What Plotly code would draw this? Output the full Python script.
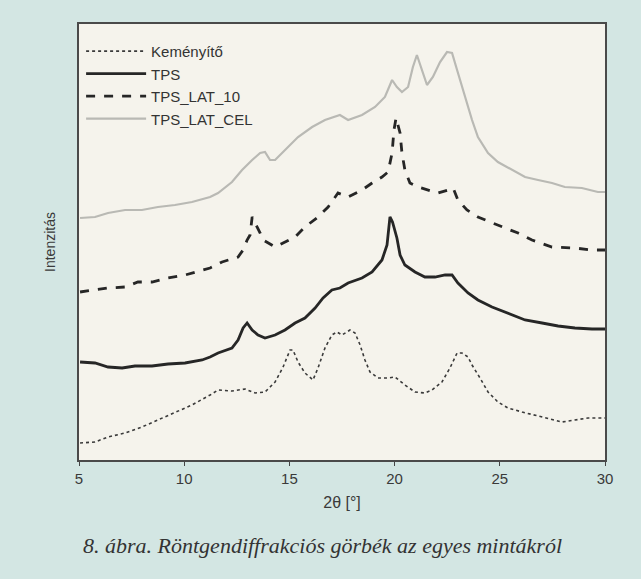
import plotly.graph_objects as go

# 2θ [°] positions and intensities (arbitrary units)
kem_x = [5.05, 5.76, 6.38, 7.19, 7.99, 8.75, 9.56, 10.37, 11.23, 11.61, 12.27, 12.89, 13.37, 13.84,
         14.32, 14.70, 15.03, 15.17, 15.41, 15.74, 16.12, 16.36, 16.69, 17.02, 17.26, 17.50, 17.88,
         18.12, 18.36, 18.59, 18.83, 19.21, 19.69, 20.02, 20.49, 20.97, 21.44, 21.78, 22.25, 22.63,
         22.97, 23.20, 23.49, 23.68, 24.06, 24.44, 24.91, 25.39, 26.06, 26.67, 27.29, 27.96, 28.57,
         29.19, 29.76, 30.0]
kem_y = [17, 18, 23, 27, 33, 40, 47, 55, 65, 70, 69, 71, 67, 68,
         78, 93, 110, 110, 98, 87, 80, 92, 112, 125, 128, 125, 130,
         127, 115, 100, 88, 82, 82, 83, 75, 68, 67, 70, 78, 92,
         107, 107, 103, 95, 82, 68, 58, 52, 48, 45, 42, 38, 40,
         42, 42, 42]

tps_x = [5.05, 5.76, 6.38, 7.05, 7.66, 8.47, 9.23, 10.04, 10.85, 11.23, 11.61, 12.27, 12.56, 12.80,
         12.99, 13.23, 13.51, 13.84, 14.32, 14.79, 15.27, 15.74, 16.22, 16.60, 17.02, 17.40, 17.79,
         18.45, 18.93, 19.40, 19.64, 19.78, 19.90, 20.11, 20.26, 20.49, 20.97, 21.44, 21.92, 22.40,
         22.73, 23.01, 23.49, 23.96, 24.63, 25.39, 26.20, 27.01, 27.77, 28.57, 29.38, 30.0]
tps_y = [98, 97, 93, 92, 94, 94, 96, 97, 100, 103, 107, 112, 120, 132,
         137, 130, 125, 122, 125, 130, 137, 142, 152, 162, 170, 172, 177,
         182, 188, 200, 215, 243, 238, 222, 205, 195, 188, 183, 183, 185,
         185, 177, 167, 160, 153, 147, 140, 137, 134, 132, 131, 131]

lat10_x = [5.05, 5.76, 6.38, 7.19, 7.80, 8.47, 9.23, 10.04, 10.85, 11.23, 11.80, 12.56, 12.80, 12.99,
           13.13, 13.23, 13.61, 13.75, 14.32, 14.79, 15.27, 15.74, 16.36, 16.84, 17.31, 17.79, 18.45,
           18.93, 19.40, 19.69, 19.88, 19.97, 20.07, 20.26, 20.35, 20.49, 20.73, 21.11, 21.59, 22.06,
           22.54, 22.78, 23.01, 23.44, 23.96, 24.63, 25.25, 25.87, 26.53, 27.48, 28.57, 29.38, 30.0]
lat10_y = [168, 170, 172, 173, 178, 178, 182, 185, 190, 192, 198, 203, 210, 220,
           225, 243, 227, 220, 213, 218, 223, 233, 243, 253, 267, 263, 270,
           277, 283, 288, 307, 330, 342, 327, 307, 290, 277, 273, 270, 267,
           270, 272, 260, 250, 243, 237, 232, 227, 220, 213, 212, 210, 210]

cel_x = [5.05, 5.76, 6.38, 7.19, 7.99, 8.75, 9.56, 10.37, 11.23, 11.61, 12.27, 12.75, 13.23, 13.61,
         13.84, 14.08, 14.32, 14.79, 15.41, 16.08, 16.69, 17.40, 17.79, 18.45, 19.07, 19.54, 19.88,
         20.11, 20.35, 20.64, 20.87, 21.06, 21.30, 21.54, 21.82, 22.16, 22.49, 22.73, 22.97, 23.20,
         23.44, 23.68, 23.96, 24.44, 24.91, 25.58, 26.20, 26.82, 27.48, 28.09, 28.90, 29.66, 30.0]
cel_y = [242, 243, 247, 250, 250, 253, 255, 258, 263, 267, 278, 290, 300, 307,
         308, 300, 300, 310, 323, 333, 340, 345, 340, 345, 353, 363, 380,
         373, 368, 373, 393, 405, 390, 375, 383, 398, 408, 407, 390, 373,
         357, 340, 323, 307, 298, 290, 283, 280, 277, 273, 272, 268, 268]

names = ["Keményítő", "TPS", "TPS_LAT_10", "TPS_LAT_CEL"]
x_ticks = [5, 10, 15, 20, 25, 30]
caption = "8. ábra. Röntgendiffrakciós görbék az egyes mintákról"

fig = go.Figure()
fig.add_trace(go.Scatter(x=kem_x, y=kem_y, name=names[0], mode="lines",
                         line=dict(color="#3a3a3a", width=1.6, dash="dot")))
fig.add_trace(go.Scatter(x=tps_x, y=tps_y, name=names[1], mode="lines",
                         line=dict(color="#262626", width=2.8)))
fig.add_trace(go.Scatter(x=lat10_x, y=lat10_y, name=names[2], mode="lines",
                         line=dict(color="#262626", width=2.8, dash="dash")))
fig.add_trace(go.Scatter(x=cel_x, y=cel_y, name=names[3], mode="lines",
                         line=dict(color="#b9b9b4", width=2.2)))

fig.update_layout(
    width=641, height=579,
    margin=dict(l=79, r=36, t=24, b=119),
    paper_bgcolor="#d3e6e3",
    plot_bgcolor="#f5f3ec",
    font=dict(family="Liberation Sans, Arial", color="#333333"),
    showlegend=True,
    legend=dict(x=0.004, y=0.975, xanchor="left", yanchor="top",
                bgcolor="rgba(0,0,0,0)", font=dict(size=15, color="#333333"),
                itemwidth=60, tracegroupgap=0),
    xaxis=dict(range=[5, 30], tickvals=x_ticks, ticktext=[str(v) for v in x_ticks],
               ticks="outside", ticklen=4, tickcolor="#444444",
               showline=True, linecolor="#4a4a4a", linewidth=1.5, mirror=True,
               showgrid=False, zeroline=False, tickfont=dict(size=15, color="#3a3a3a"),
               title=dict(text="2θ [°]", font=dict(size=16, color="#3a3a3a"), standoff=11)),
    yaxis=dict(range=[0, 436], showticklabels=False, ticks="",
               showline=True, linecolor="#4a4a4a", linewidth=1.5, mirror=True,
               showgrid=False, zeroline=False,
               title=dict(text="Intenzitás", font=dict(size=14, color="#3a3a3a"), standoff=18)),
    annotations=[dict(text="<i>" + caption + "</i>",
                      xref="paper", yref="paper", x=0.462, y=-0.195,
                      xanchor="center", yanchor="middle", showarrow=False,
                      font=dict(family="Liberation Serif, DejaVu Serif", size=22,
                                color="#333333"))],
)

fig.write_html("out.html", config={"displayModeBar": False},
               post_script="document.body.style.margin='0';document.body.style.padding='0';")
